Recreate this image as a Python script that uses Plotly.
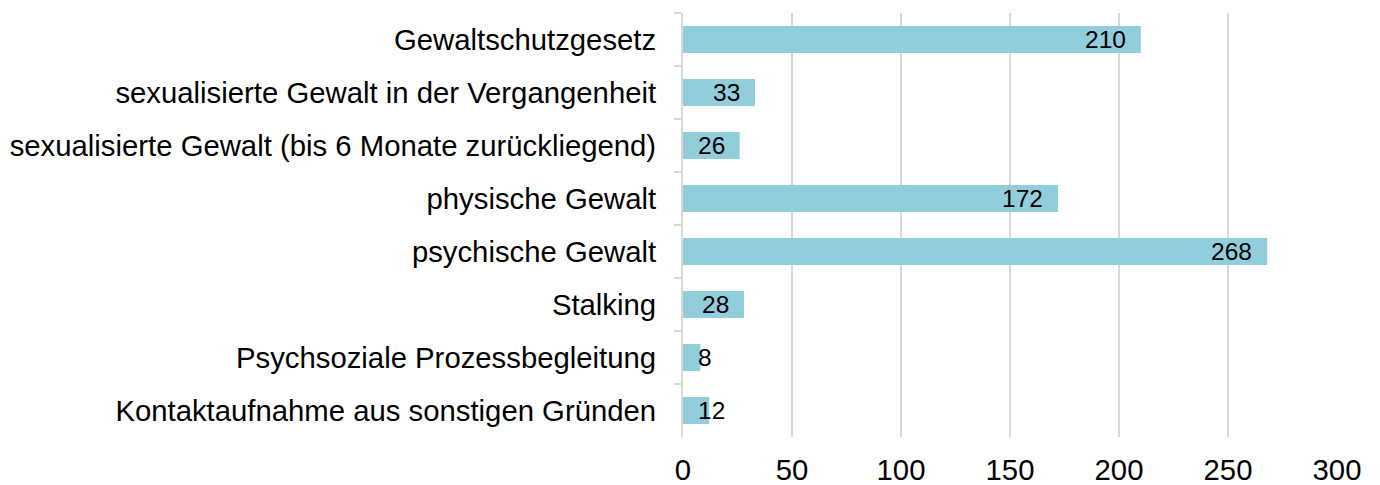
import plotly.graph_objects as go

categories = [
    "Gewaltschutzgesetz",
    "sexualisierte Gewalt in der Vergangenheit",
    "sexualisierte Gewalt (bis 6 Monate zurückliegend)",
    "physische Gewalt",
    "psychische Gewalt",
    "Stalking",
    "Psychsoziale Prozessbegleitung",
    "Kontaktaufnahme aus sonstigen Gründen",
]
values = [210, 33, 26, 172, 268, 28, 8, 12]
x_ticks = [0, 50, 100, 150, 200, 250, 300]

FONT = "Liberation Sans, Arial, sans-serif"
BAR_COLOR = "#92CDDC"
GRID = "#d9d9d9"

fig = go.Figure()
fig.add_trace(go.Bar(
    x=values, y=categories, orientation="h",
    marker=dict(color=BAR_COLOR, line=dict(width=0)),
    hoverinfo="x+y",
))

# data labels: inside end when they fit, otherwise from bar start (Excel style)
annotations = []
for cat, v in zip(categories, values):
    if v >= 20:
        annotations.append(dict(x=v, y=cat, text=str(v), xanchor="right", xshift=-13,
                                showarrow=False, font=dict(family=FONT, size=24.5, color="#000")))
    else:
        annotations.append(dict(x=0, y=cat, text=str(v), xanchor="left", xshift=13,
                                showarrow=False, font=dict(family=FONT, size=24.5, color="#000")))

fig.update_layout(
    width=1372, height=477,
    margin=dict(l=675, r=43, t=5, b=48),
    paper_bgcolor="white", plot_bgcolor="white",
    showlegend=False,
    bargap=0.49,
    font=dict(family=FONT, color="#000"),
    annotations=annotations,
    xaxis=dict(
        range=[0, 300], tickvals=x_ticks, ticktext=[str(t) for t in x_ticks],
        showgrid=True, gridcolor=GRID, gridwidth=2,
        zeroline=False, showline=False, ticks="",
        tickfont=dict(family=FONT, size=29.3, color="#000"),
        ticklabelstandoff=13, automargin=False,
    ),
    yaxis=dict(
        autorange="reversed", type="category",
        showline=True, linecolor=GRID, linewidth=2,
        ticks="outside", tickson="boundaries", ticklen=7, tickcolor=GRID, tickwidth=2,
        showgrid=False, zeroline=False,
        tickfont=dict(family=FONT, size=29.3, color="#000"),
        ticklabelstandoff=19, automargin=False,
    ),
)

fig.write_html("out.html")
